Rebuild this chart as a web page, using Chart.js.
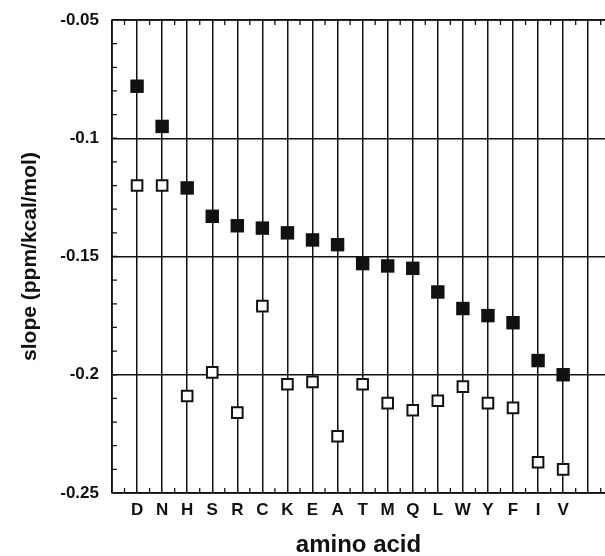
<!DOCTYPE html>
<html>
<head>
<meta charset="utf-8">
<script src="https://cdn.jsdelivr.net/npm/chart.js@4/dist/chart.umd.min.js"></script>
<style>
  html, body { margin: 0; padding: 0; background: #fff; }
  canvas { display: block; }
</style>
</head>
<body>
<canvas id="chart" width="605" height="556"></canvas>
<script>
// amino acids along the x axis
const aminoAcids = ['D', 'N', 'H', 'S', 'R', 'C', 'K', 'E', 'A', 'T', 'M', 'Q', 'L', 'W', 'Y', 'F', 'I', 'V'];

// filled squares
const filledSlopes = [-0.078, -0.095, -0.121, -0.133, -0.137, -0.138, -0.140, -0.143, -0.145,
  -0.153, -0.154, -0.155, -0.165, -0.172, -0.175, -0.178, -0.194, -0.200];

// open squares
const openSlopes = [-0.120, -0.120, -0.209, -0.199, -0.216, -0.171, -0.204, -0.203, -0.226,
  -0.204, -0.212, -0.215, -0.211, -0.205, -0.212, -0.214, -0.237, -0.240];

// y axis tick labels
const yTickValues = [-0.25, -0.2, -0.15, -0.1, -0.05];
const yTickLabels = ['-0.25', '-0.2', '-0.15', '-0.1', '-0.05'];

const INK = '#111';
const toPoints = vals => vals.map((v, i) => ({ x: i + 1, y: v }));

// frame (left, top, bottom) and the small inward minor ticks
const framePlugin = {
  id: 'frame',
  afterDatasetsDraw(chart) {
    const { ctx, chartArea: a, scales: { x, y } } = chart;
    ctx.save();
    ctx.strokeStyle = INK;
    ctx.lineWidth = 1.5;
    ctx.beginPath();
    ctx.moveTo(chart.width + 2, a.top);
    ctx.lineTo(a.left, a.top);
    ctx.lineTo(a.left, a.bottom);
    ctx.lineTo(chart.width + 2, a.bottom);
    ctx.stroke();

    ctx.lineWidth = 1.3;
    ctx.beginPath();
    // minor ticks on the y axis, every 0.01
    for (let k = 1; k < 20; k++) {
      const py = y.getPixelForValue(-0.25 + k * 0.01);
      ctx.moveTo(a.left, py);
      ctx.lineTo(a.left + 5, py);
    }
    // minor ticks top and bottom, between categories
    for (let k = 0; k <= aminoAcids.length + 1; k++) {
      const px = x.getPixelForValue(k + 0.5);
      if (px > chart.width) break;
      ctx.moveTo(px, a.top);
      ctx.lineTo(px, a.top + 5);
      ctx.moveTo(px, a.bottom);
      ctx.lineTo(px, a.bottom - 5);
    }
    ctx.stroke();
    ctx.restore();
  }
};

const FAMILY = '"Liberation Sans", Arial, sans-serif';
const tickFont = { family: FAMILY, size: 17, weight: 'bold' };

new Chart(document.getElementById('chart').getContext('2d'), {
  type: 'scatter',
  data: {
    datasets: [
      {
        label: 'open',
        data: toPoints(openSlopes),
        pointStyle: 'rect',
        pointRadius: 7.5,
        pointBackgroundColor: '#fff',
        pointBorderColor: INK,
        pointBorderWidth: 2
      },
      {
        label: 'filled',
        data: toPoints(filledSlopes),
        pointStyle: 'rect',
        pointRadius: 9.5,
        pointBackgroundColor: INK,
        pointBorderColor: INK,
        pointBorderWidth: 0
      }
    ]
  },
  options: {
    responsive: false,
    animation: false,
    layout: { autoPadding: false, padding: { top: 20, left: 0, right: 0, bottom: 0 } },
    plugins: {
      legend: { display: false },
      tooltip: { enabled: false }
    },
    scales: {
      x: {
        type: 'linear',
        min: 0,
        max: 19.67,
        afterBuildTicks(scale) {
          const t = [];
          for (let k = 0; k <= aminoAcids.length + 1; k++) t.push({ value: k });
          scale.ticks = t;
        },
        afterFit(scale) {
          scale.height = 63;
          scale.paddingLeft = 0;
          scale.paddingRight = 0;
        },
        grid: { color: INK, lineWidth: 1.5, drawTicks: false },
        border: { display: false },
        ticks: {
          color: INK,
          font: tickFont,
          padding: 7,
          maxRotation: 0,
          autoSkip: false,
          callback: v => aminoAcids[v - 1] || ''
        },
        title: {
          display: true,
          text: 'amino acid',
          color: INK,
          font: { family: FAMILY, size: 24, weight: 'bold' },
          padding: { top: 0, bottom: -4 }
        }
      },
      y: {
        min: -0.25,
        max: -0.05,
        afterBuildTicks(scale) {
          scale.ticks = yTickValues.map(v => ({ value: v }));
        },
        afterFit(scale) {
          scale.width = 112;
          scale.paddingTop = 0;
          scale.paddingBottom = 0;
        },
        grid: { color: INK, lineWidth: 1.5, drawTicks: false },
        border: { display: false },
        ticks: {
          color: INK,
          font: tickFont,
          padding: 13,
          callback: (v, i) => yTickLabels[i]
        },
        title: {
          display: true,
          text: 'slope (ppm/kcal/mol)',
          color: INK,
          font: { family: FAMILY, size: 21, weight: 'bold' },
          padding: { top: 18, bottom: 0 }
        }
      }
    }
  },
  plugins: [framePlugin]
});
</script>
</body>
</html>
